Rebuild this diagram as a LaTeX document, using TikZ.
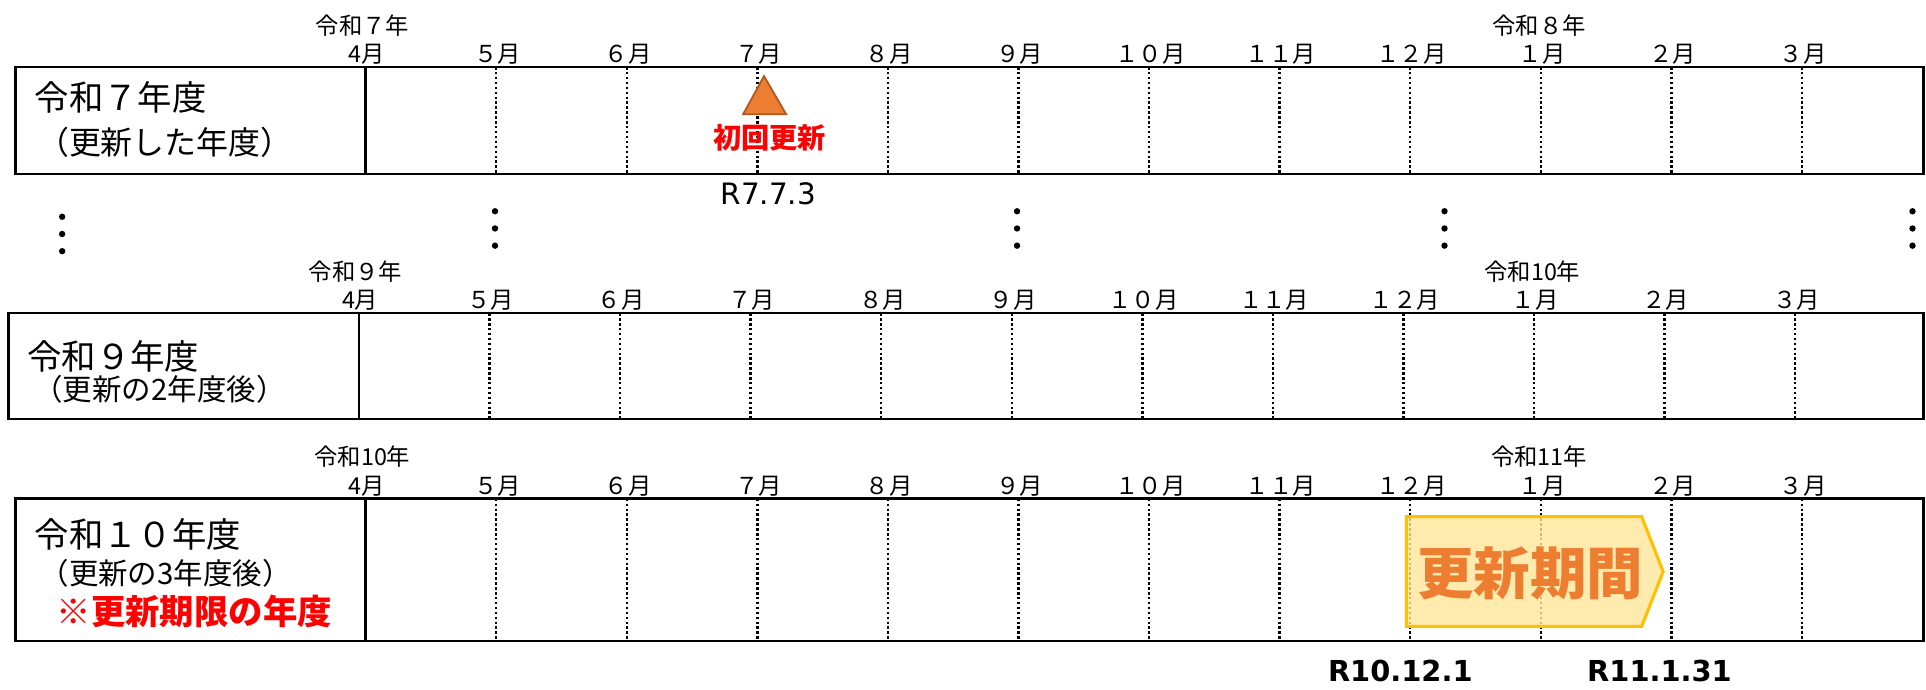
\documentclass[tikz,border=0pt]{standalone}
\usepackage{fontspec}
\setmainfont{Noto Sans CJK JP}
\newfontfamily\datefont{DejaVu Sans}
\definecolor{triorange}{HTML}{ED7D31}
\definecolor{triedge}{HTML}{AE5A21}
\definecolor{periodfill}{HTML}{FFE699}
\definecolor{periodedge}{HTML}{FFC000}
\definecolor{alertred}{HTML}{FF0000}

\begin{document}
\begin{tikzpicture}[x=1pt, y=-1pt,
  frame/.style={line width=2pt},
  monthline/.style={line width=2pt, dash pattern=on 2pt off 2pt},
  month/.style={inner sep=0pt, font=\fontsize{19}{19}\selectfont},
  era/.style={inner sep=0pt, font=\fontsize{19}{19}\selectfont},
  title/.style={anchor=west, inner sep=0pt, font=\fontsize{28}{28}\selectfont},
  sub/.style={anchor=west, inner sep=0pt, font=\fontsize{24}{24}\selectfont},
  alert/.style={inner sep=0pt, text=alertred, font=\bfseries\fontsize{28}{28}\selectfont},
  date/.style={inner sep=0pt, font=\datefont\fontsize{24}{24}\selectfont},
  period/.style={fill=periodfill, fill opacity=0.8, draw=periodedge, line width=2.5pt, line join=miter}]
  \useasboundingbox (0,0) rectangle (1568,561);
  \foreach \row/\dx/\ytop/\ybot/\eraa/\erab in {1/0/54.6/141.7/令和７年/令和８年, 2/-5.5/255/341/令和９年/令和10年, 3/0/406/522/令和10年/令和11年}
  {
    \draw[frame] (12.5+\dx,\ytop) rectangle (1566,\ybot);
    \draw[frame] (297.7+\dx,\ytop) -- (297.7+\dx,\ybot);
    \foreach \i in {1,...,11}
      \draw[monthline] (297.7+\dx+106.3*\i,\ytop) -- (297.7+\dx+106.3*\i,\ybot);
    \foreach \m [count=\i from 0] in {4月,５月,６月,７月,８月,９月,１０月,１１月,１２月,１月,２月,３月}
      \node[month] (m\row-\i) at (298.7+\dx+106.3*\i,\ytop-10.5) {\m};
    \node[era] (e\row-a) at (295+\dx,\ytop-34) {\eraa};
    \node[era] (e\row-b) at (1253+\dx,\ytop-34) {\erab};
  }
  \node[title] (t1) at (28,79) {令和７年度};
  \node[title, font=\fontsize{26}{26}\selectfont] (s1) at (30,116) {（更新した年度）};
  \node[title] (t2) at (22,290) {令和９年度};
  \node[sub] (s2) at (27,317) {（更新の2年度後）};
  \node[title] (t3) at (28,435) {令和１０年度};
  \node[sub] (s3) at (32,467) {（更新の3年度後）};
  \node[alert, anchor=west] (a3) at (46,498) {※更新期限の年度};
  \draw[fill=triorange, draw=triedge, line width=1.5pt] (622,62) -- (640,93) -- (605,93) -- cycle;
  \node[alert, font=\bfseries\fontsize{23}{23}\selectfont] (first) at (626.5,112.5) {初回更新};
  \node[date] (d1) at (625.5,158) {R7.7.3};
  \foreach \x/\y in {50.6/176.5, 403/172, 828/172, 1176/172, 1557/172}
    \foreach \k in {0,1,2}
      \fill (\x,\y+14*\k) circle (2.6pt);
  \draw[period] (1145,420.6) -- (1336.5,420.6) -- (1354,465.3) -- (1336.5,510) -- (1145,510) -- cycle;
  \node[inner sep=0pt, text=triorange, font=\bfseries\fontsize{46}{46}\selectfont] (renew) at (1245.6,466.7) {更新期間};
  \node[date, font=\datefont\bfseries\fontsize{23.5}{23.5}\selectfont] (d2) at (1140,546.5) {R10.12.1};
  \node[date, font=\datefont\bfseries\fontsize{23.5}{23.5}\selectfont] (d3) at (1351,546.5) {R11.1.31};
\end{tikzpicture}
\end{document}
